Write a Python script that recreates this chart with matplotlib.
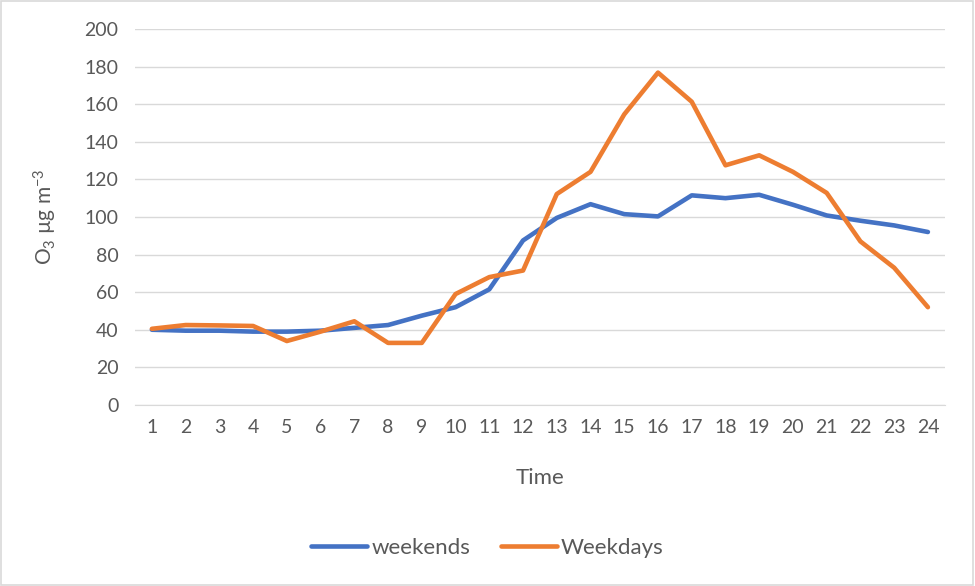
import matplotlib.pyplot as plt
import matplotlib.patches as mpatches

# hourly mean O3 concentrations
hours = list(range(1, 25))
weekends = [40, 39.5, 39.5, 39, 39, 39.5, 41, 42.5, 47.5, 52, 61.5, 87.5,
            99.5, 106.8, 101.5, 100.3, 111.5, 110, 111.8, 106.5, 100.8, 98, 95.5, 92]
weekdays = [40.5, 42.5, 42.3, 42, 34, 39, 44.5, 33, 33, 59, 68, 71.5,
            112.2, 124, 154.6, 176.8, 161.3, 127.5, 132.8, 124, 112.8, 87, 73, 52]
yticks = list(range(0, 201, 20))

plt.rcParams['font.family'] = ['Lato', 'DejaVu Sans']
plt.rcParams['mathtext.default'] = 'regular'
txt = '#595959'
grid = '#D9D9D9'

fig = plt.figure(figsize=(9.75, 5.86), dpi=100)
ax = fig.add_axes([0.1385, 0.309, 0.8305, 0.6415])

ax.plot(hours, weekends, color='#4472C4', lw=3.3, label='weekends', solid_capstyle='round')
ax.plot(hours, weekdays, color='#ED7D31', lw=3.3, label='Weekdays', solid_capstyle='round')

ax.set_xlim(0.5, 24.5)
ax.set_ylim(0, 200)
ax.set_yticks(yticks)
ax.set_xticks(hours)
ax.grid(axis='y', color=grid, lw=1)
ax.set_axisbelow(True)
for s in ['top', 'right', 'left']:
    ax.spines[s].set_visible(False)
ax.spines['bottom'].set_color(grid)
ax.tick_params(length=0, labelsize=14, colors=txt, pad=10)
ax.tick_params(axis='y', pad=12)

ax.set_xlabel('Time', fontsize=16, color=txt, labelpad=23)
ax.set_ylabel(r'O$_3$ µg m$^{-3}$', fontsize=15, color=txt, labelpad=18)

fig.legend(loc='center', bbox_to_anchor=(0.5, 0.065), ncol=2, frameon=False,
           fontsize=16, labelcolor=txt, handlelength=2.5, columnspacing=1.4,
           handletextpad=0.2)

fig.patches.append(mpatches.Rectangle((0.001, 0.001), 0.997, 0.997, transform=fig.transFigure,
                                      fill=False, edgecolor=grid, lw=1.2))

fig.savefig('out.png', dpi=100)
